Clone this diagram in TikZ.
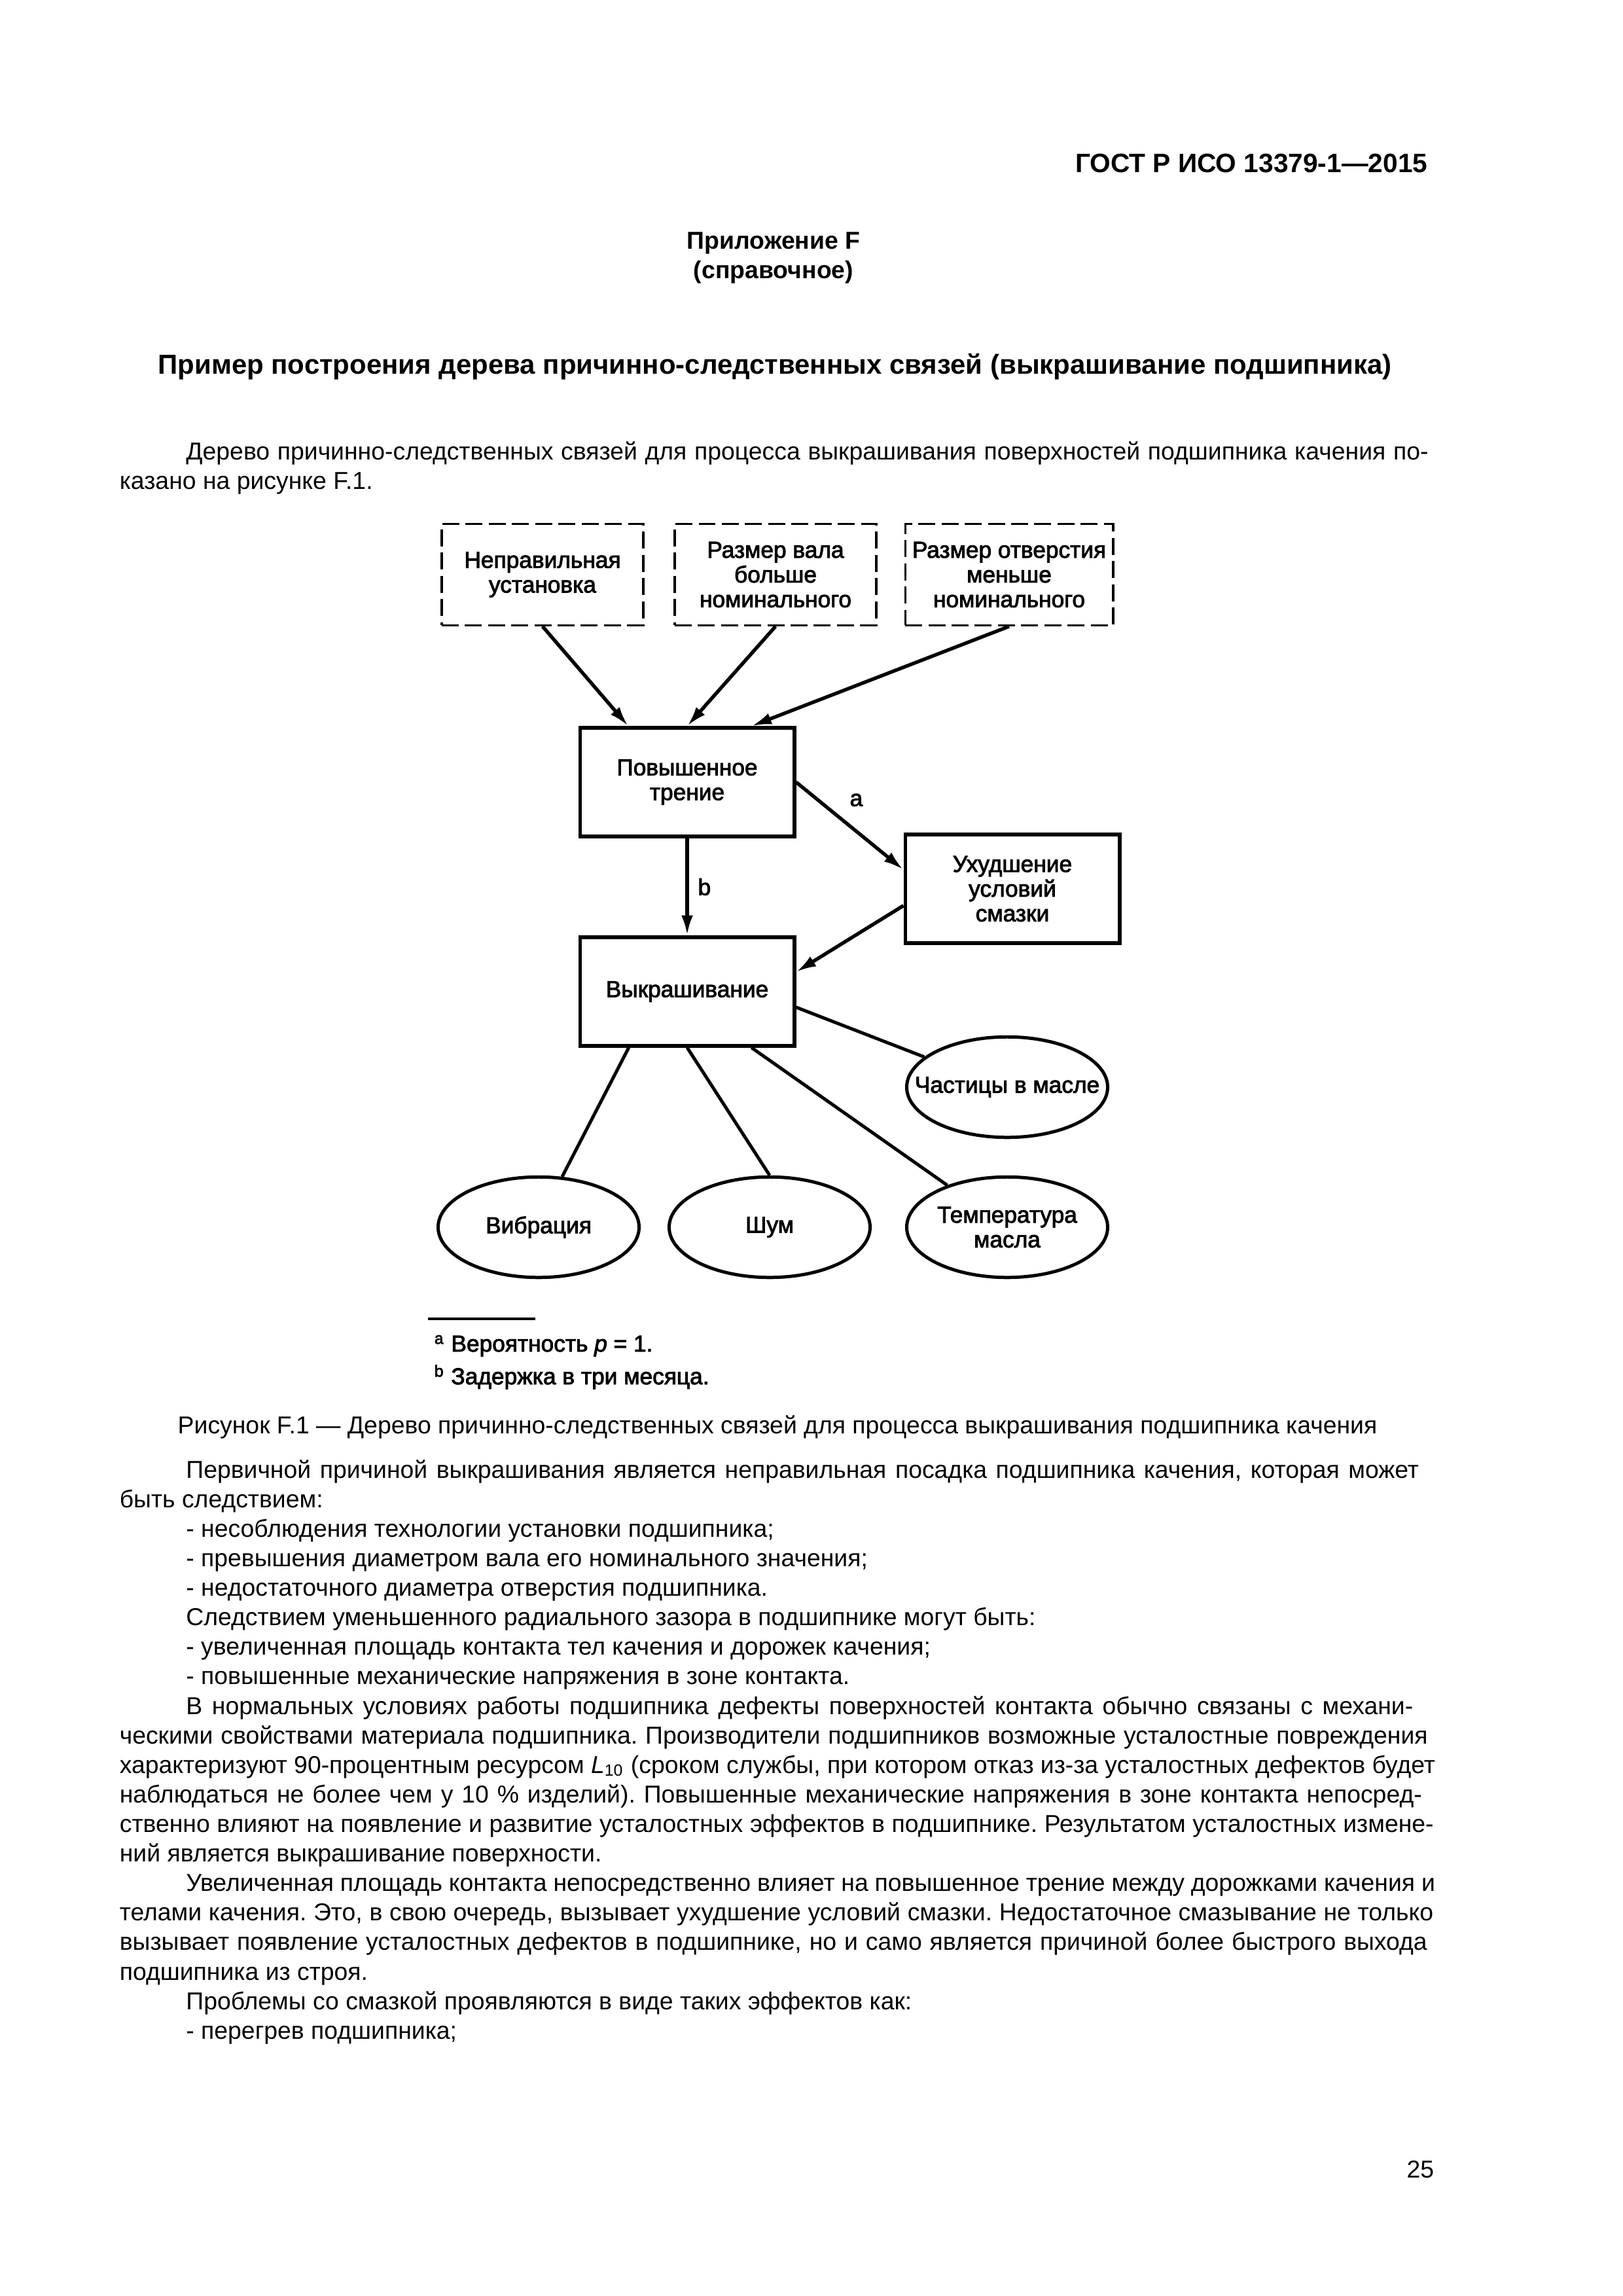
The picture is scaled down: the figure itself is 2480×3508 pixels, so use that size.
\documentclass[tikz,border=0pt]{standalone}
\usepackage{fontspec}
\setmainfont{Liberation Sans}
\newfontfamily\figfont[FakeBold=2.5]{Liberation Sans}
\usetikzlibrary{shapes.geometric,arrows.meta,calc}
% justified text with the tight spaces of the page
\newcommand\bodyset{\frenchspacing\spaceskip=0.278em plus 0.25em minus 0.17em
    \hyphenpenalty=10000\exhyphenpenalty=10000\setlength{\parindent}{8.6mm}%
    \hspace*{\parindent}}

\begin{document}
\begin{tikzpicture}
        [x=0.08467mm, y=-0.08467mm,
         figtext/.style={font=\figfont\fontsize{8.5}{9.1}\selectfont},
         bodytext/.style={font=\fontsize{9}{10.87}\selectfont, inner sep=0pt},
         causebox/.style={figtext, draw, dashed, dash pattern=on 2.2mm off 0.8mm,
             line width=0.8pt, minimum width=26.1mm, minimum height=13.1mm,
             inner sep=0pt, align=center},
         eventbox/.style={figtext, draw, line width=1.4pt, minimum width=27.7mm,
             minimum height=14mm, inner sep=0pt, align=center},
         signell/.style={figtext, ellipse, draw, line width=1.2pt, minimum width=26mm,
             minimum height=13mm, inner xsep=-3mm, inner ysep=0pt, align=center},
         link/.style={line width=1.3pt, -{Latex[length=2.6mm,width=1.5mm]}},
         tie/.style={line width=1.2pt}]
        \fill[white] (0,0) rectangle (2480,3508);
        \useasboundingbox (0,0) rectangle (2480,3508);

        % head of the page
        \node[anchor=base east, font=\bfseries\fontsize{9.8}{12}\selectfont]
            (gost) at (2196,263) {ГОСТ Р ИСО 13379-1—2015};
        \node[anchor=base, font=\bfseries\fontsize{9}{11}\selectfont]
            (appx) at (1182,380) {Приложение F};
        \node[anchor=base, font=\bfseries\fontsize{9}{11}\selectfont]
            (sprav) at (1182,425) {(справочное)};
        \node[anchor=base, font=\bfseries\fontsize{10.1}{12}\selectfont]
            (title) at (1184,571)
            {Пример построения дерева причинно-следственных связей (выкрашивание подшипника)};
        \node[bodytext, anchor=base west, text width=170.2mm] (intro) at (182,702)
            {\bodyset
            Дерево причинно-следственных связей для процесса выкрашивания поверхностей подшипника качения по-\linebreak
            казано на рисунке F.1.};

        % causes
        \node[causebox] (install) at (829,878) {Неправильная\\установка};
        \node[causebox] (shaft) at (1185,878) {Размер вала\\больше\\номинального};
        \node[causebox, minimum width=26.9mm] (bore) at (1542,878)
            {Размер отверстия\\меньше\\номинального};
        % events
        \node[eventbox] (fric) at (1050,1195) {Повышенное\\трение};
        \node[eventbox] (lubr) at (1547,1358) {Ухудшение\\условий\\смазки};
        \node[eventbox] (spall) at (1050,1515) {Выкрашивание};
        % signs
        \node[signell] (oilp) at (1539,1661) {Частицы в масле};
        \node[signell] (vibr) at (823,1875) {Вибрация};
        \node[signell] (noise) at (1176,1875) {Шум};
        \node[signell] (oilt) at (1539,1875) {Температура\\масла};

        \draw[link] (install.south) -- ($(fric.north west)!.23!(fric.north east)$);
        \draw[link] (shaft.south) -- (fric.north);
        \draw[link] (bore.south) -- ($(fric.north west)!.795!(fric.north east)$);
        \draw[link] (fric.east) --
            node[figtext, pos=.4, above right=0pt] (la) {a}
            ($(lubr.north west)!.33!(lubr.south west)$);
        \draw[link] (fric.south) -- node[figtext, right] (lb) {b} (spall.north);
        \draw[link] ($(lubr.north west)!.65!(lubr.south west)$) --
            ($(spall.north east)!.325!(spall.south east)$);
        \draw[tie] ($(spall.north east)!.64!(spall.south east)$) -- (oilp.160);
        \draw[tie] ($(spall.south west)!.232!(spall.south east)$) -- (vibr.65);
        \draw[tie] (spall.south) -- (noise.north);
        \draw[tie] ($(spall.south west)!.795!(spall.south east)$) -- (oilt.145);

        % notes of the figure
        \draw[line width=0.9pt] (654,2015) -- (818,2015);
        \node[figtext, anchor=base west, inner sep=0pt] (fna) at (663,2065)
            {\textsuperscript{a} Вероятность \textit{p} = 1.};
        \node[figtext, anchor=base west, inner sep=0pt] (fnb) at (663,2115)
            {\textsuperscript{b} Задержка в три месяца.};
        \node[bodytext, anchor=base] (caption) at (1188,2190)
            {Рисунок F.1 — Дерево причинно-следственных связей для процесса выкрашивания подшипника качения};

        % text below
        \node[bodytext, anchor=base west, text width=170.2mm] (body) at (182,2258)
            {\bodyset
            Первичной причиной выкрашивания является неправильная посадка подшипника качения, которая может\linebreak
            быть следствием:\par
            - несоблюдения технологии установки подшипника;\par
            - превышения диаметром вала его номинального значения;\par
            - недостаточного диаметра отверстия подшипника.\par
            Следствием уменьшенного радиального зазора в подшипнике могут быть:\par
            - увеличенная площадь контакта тел качения и дорожек качения;\par
            - повышенные механические напряжения в зоне контакта.\par
            В нормальных условиях работы подшипника дефекты поверхностей контакта обычно связаны с механи-\linebreak
            ческими свойствами материала подшипника. Производители подшипников возможные усталостные повреждения\linebreak
            характеризуют 90-процентным ресурсом \textit{L}\textsubscript{10} (сроком службы, при котором отказ из-за усталостных дефектов будет\linebreak
            наблюдаться не более чем у 10~\% изделий). Повышенные механические напряжения в зоне контакта непосред-\linebreak
            ственно влияют на появление и развитие усталостных эффектов в подшипнике. Результатом усталостных измене-\linebreak
            ний является выкрашивание поверхности.\par
            Увеличенная площадь контакта непосредственно влияет на повышенное трение между дорожками качения и\linebreak
            телами качения. Это, в свою очередь, вызывает ухудшение условий смазки. Недостаточное смазывание не только\linebreak
            вызывает появление усталостных дефектов в подшипнике, но и само является причиной более быстрого выхода\linebreak
            подшипника из строя.\par
            Проблемы со смазкой проявляются в виде таких эффектов как:\par
            - перегрев подшипника;};
        \node[bodytext, anchor=base east] (pnum) at (2192,3327) {25};
\end{tikzpicture}
\end{document}
